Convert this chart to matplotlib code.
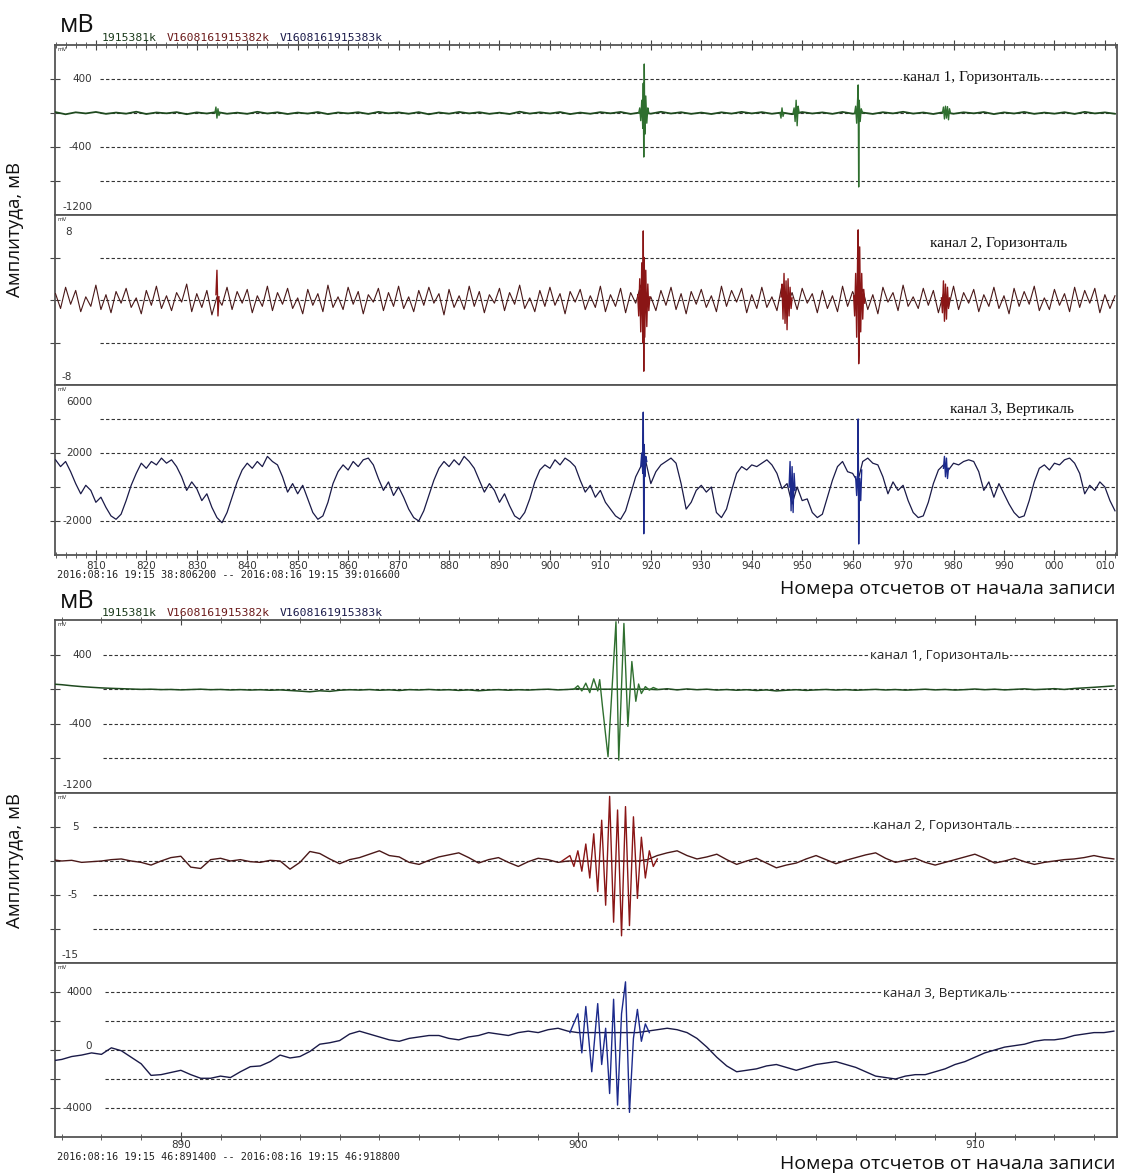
import numpy as np
import matplotlib
matplotlib.use("Agg")
import matplotlib.pyplot as plt
from matplotlib.ticker import FixedLocator, FixedFormatter, MultipleLocator, NullFormatter
from matplotlib.transforms import blended_transform_factory

# ---------------- DATA ----------------
# Top block: sample numbers 802..1012
top_x_start = 802
top_tick_values = [810, 820, 830, 840, 850, 860, 870, 880, 890, 900,
                   910, 920, 930, 940, 950, 960, 970, 980, 990, 1000, 1010]
top_tick_labels = ["810", "820", "830", "840", "850", "860", "870", "880", "890", "900",
                   "910", "920", "930", "940", "950", "960", "970", "980", "990", "000", "010"]

# channel 1 (top) baseline, every 2 samples, mV
t1_base = [10, -15, 8, -5, 12, -10, 5, -8, 15, -12,
           6, -4, 10, -14, 7, -6, 12, -9, 4, -10,
           14, -6, 8, -12, 5, -7, 11, -13, 6, -5,
           9, -11, 13, -4, 7, -9, 10, -15, 6, -8,
           12, -5, 9, -10, 4, -12, 15, -7, 8, -6,
           11, -13, 5, -9, 10, -4, 12, -11, 7, -8,
           14, -6, 9, -10, 5, -12, 8, -7, 13, -5,
           10, -9, 6, -14, 11, -6, 7, -10, 12, -8,
           5, -11, 9, -5, 14, -7, 6, -12, 10, -9,
           8, -4, 11, -13, 7, -6, 12, -10, 5, -8,
           9, -11, 13, -5, 7, -9]
t1_b834_x = [833.6, 833.8, 834.0, 834.2, 834.4, 834.6]
t1_b834_y = [0, 70, -60, 50, -30, 0]
t1_b918_x = [917.6, 917.8, 918.0, 918.2, 918.4, 918.5, 918.6, 918.7, 918.8, 919.0, 919.2, 919.4, 919.6]
t1_b918_y = [0, 60, -90, 150, -180, 350, -518, 576, -250, 200, -120, 60, 0]
t1_b946_x = [945.6, 945.8, 946.0, 946.2, 946.4]
t1_b946_y = [0, -60, 60, -40, 0]
t1_b949_x = [948.2, 948.4, 948.6, 948.8, 949.0, 949.2, 949.4]
t1_b949_y = [0, 60, -100, 150, -150, 80, 0]
t1_b961_x = [960.4, 960.6, 960.8, 961.0, 961.1, 961.2, 961.3, 961.5, 961.7, 962.0]
t1_b961_y = [0, 80, -120, 180, 330, -870, 150, -100, 50, 0]
t1_b979_x = [977.8, 978.0, 978.2, 978.4, 978.6, 978.8, 979.0, 979.2, 979.4]
t1_b979_y = [0, 70, -70, 80, -60, 75, -80, 50, 0]

# channel 2 (top) baseline, every sample, mV
t2_base = [0.6, -0.8, 1.2, -0.4, 0.9, -1.1, 0.3, -0.6, 1.4, -0.9,
           0.5, -1.2, 0.8, -0.3, 1.1, -0.7, 0.2, -1.3, 0.9, -0.5,
           1.3, -0.8, 0.4, -1.0, 0.7, -0.2, 1.5, -1.1, 0.6, -0.7,
           0.9, -1.4, 0.3, -0.5, 1.2, -0.9, 0.8, -0.3, 1.0, -1.2,
           0.4, -0.6, 1.3, -1.0, 0.7, -0.4, 1.1, -0.8, 0.2, -1.3,
           1.0, -0.5, 0.6, -1.1, 1.4, -0.7, 0.3, -0.9, 1.2, -0.4,
           0.8, -1.3, 0.5, -0.2, 1.1, -1.0, 0.7, -0.6, 1.3, -0.8,
           0.3, -1.1, 0.9, -0.5, 1.2, -0.3, 0.6, -1.4, 1.0, -0.7,
           0.4, -0.9, 1.3, -0.6, 0.8, -1.2, 0.5, -0.3, 1.1, -1.0,
           0.7, -0.4, 1.4, -0.8, 0.2, -1.1, 0.9, -0.6, 1.2, -0.5,
           0.6, -1.3, 0.8, -0.2, 1.0, -0.9, 0.4, -0.7, 1.3, -1.1,
           0.5, -0.6, 1.1, -1.2, 0.7, -0.3, 1.4, -0.8, 0.3, -1.0,
           0.9, -0.5, 1.2, -0.9, 0.6, -1.3, 0.8, -0.4, 1.0, -0.7,
           0.4, -1.1, 1.3, -0.6, 0.9, -0.2, 1.1, -1.2, 0.5, -0.8,
           1.2, -0.7, 0.3, -1.0, 1.4, -0.5, 0.7, -0.9, 1.1, -0.3,
           0.6, -1.2, 0.9, -0.8, 0.4, -1.1, 1.3, -0.6, 0.8, -0.4,
           1.0, -0.9, 0.5, -1.3, 1.2, -0.2, 0.7, -1.0, 1.4, -0.6,
           0.3, -0.8, 1.1, -0.5, 0.9, -1.2, 0.6, -0.7, 1.3, -0.9,
           0.7, -0.3, 1.0, -1.1, 0.5, -0.6, 1.2, -0.8, 0.4, -1.3,
           1.1, -0.6, 0.8, -0.4, 1.3, -1.0, 0.2, -0.9, 1.0, -0.5,
           0.6, -1.1, 1.2, -0.7, 0.9, -0.3, 1.1, -1.2, 0.5, -0.8,
           0.4]
t2_b834_x = [833.8, 834.0, 834.2, 834.4]
t2_b834_y = [0.5, 2.8, -1.5, 0.3]
t2_b918_x = [917.4, 917.6, 917.8, 918.0, 918.2, 918.4, 918.5, 918.6, 918.7, 918.8, 919.0, 919.2, 919.4, 919.6, 919.8]
t2_b918_y = [0.5, -1.5, 2.0, -3.0, 3.5, -4.0, 6.5, -6.7, 4.0, -3.5, 2.8, -2.5, 1.5, -1.0, 0.3]
t2_b947_x = [945.8, 946.0, 946.2, 946.4, 946.6, 946.8, 947.0, 947.2, 947.4, 947.6, 947.8, 948.0]
t2_b947_y = [0.3, 1.5, -1.8, 2.5, -2.2, 1.8, -2.8, 2.0, -1.5, 1.2, -0.8, 0.2]
t2_b961_x = [960.2, 960.4, 960.6, 960.8, 961.0, 961.1, 961.2, 961.3, 961.4, 961.6, 961.8, 962.0, 962.2, 962.4]
t2_b961_y = [0.4, -1.5, 2.5, -3.5, 4.5, 6.6, -6.0, -4.5, 5.0, -3.0, 2.5, -1.8, 1.0, -0.3]
t2_b978_x = [977.6, 977.8, 978.0, 978.2, 978.4, 978.6, 978.8, 979.0, 979.2]
t2_b978_y = [0.2, -1.2, 1.8, -2.0, 1.5, -1.8, 1.2, -0.8, 0.2]

# channel 3 (top) baseline, every sample, mV
t3_base = [1600, 1200, 1500, 900, 200, -400, 100, -200, -900, -600,
           -1200, -1700, -1900, -1600, -800, 100, 800, 1400, 1100, 1500,
           1300, 1700, 1400, 1600, 1200, 600, -200, 300, -100, -800,
           -400, -1200, -1800, -2100, -1500, -600, 300, 1000, 1400, 1100,
           1500, 1200, 1800, 1500, 1300, 600, -300, 200, -400, 100,
           -700, -1500, -1900, -1700, -900, 200, 900, 1300, 1000, 1500,
           1200, 1600, 1700, 1300, 500, -200, 300, -500, 0, -600,
           -1300, -1800, -2000, -1400, -500, 400, 1100, 1500, 1200, 1600,
           1300, 1800, 1500, 1100, 400, -300, 200, -200, -900, -400,
           -1100, -1700, -1900, -1500, -700, 300, 1000, 1300, 1100, 1600,
           1300, 1700, 1500, 1200, 400, -300, 100, -600, -200, -900,
           -1300, -1700, -1900, -1400, -400, 600, 1200, 1500, 200, 900,
           1300, 1500, 1700, 1400, 200, -1300, -900, -200, 100, -300,
           0, -1500, -1800, -1300, -200, 800, 1200, 1000, 1300, 1200,
           1400, 1600, 1300, 800, -100, 200, -1000, 0, -800, -700,
           -1500, -1800, -1600, -600, 400, 1200, 1500, 900, 800, 300,
           1500, 1700, 1400, 1300, 600, -400, 300, -200, 100, -800,
           -1500, -1800, -1700, -900, 200, 1000, 1300, 1000, 1400, 1300,
           1500, 1600, 1500, 900, -200, 300, -600, 200, -400, -1000,
           -1500, -1800, -1700, -800, 300, 1100, 1300, 1000, 1400, 1300,
           1600, 1700, 1400, 800, -400, 100, -200, 300, 0, -800,
           -1400]
t3_b918_x = [918.0, 918.2, 918.4, 918.5, 918.6, 918.7, 918.8, 919.0, 919.2]
t3_b918_y = [1200, 2000, 800, 4400, -2750, 2500, 600, 1800, 1500]
t3_b948_x = [947.4, 947.6, 947.8, 948.0, 948.2, 948.4, 948.6]
t3_b948_y = [0, 1500, -1400, 1200, -1500, 800, -200]
t3_b961_x = [960.6, 960.8, 961.0, 961.1, 961.2, 961.3, 961.4, 961.6, 961.8]
t3_b961_y = [600, -500, 800, 4000, -3350, -1000, 500, -800, 1000]
t3_b979_x = [978.0, 978.2, 978.4, 978.6, 978.8, 979.0]
t3_b979_y = [1100, 1800, 600, 1700, 500, 1100]

# Bottom block: samples 886.75..913.5 every 0.25
bot_x_start = 886.75
bot_tick_values = [890, 900, 910]
bot_tick_labels = ["890", "900", "910"]

b1_base = [60, 52, 40, 30, 22, 15, 10, 6, 2, -2,
           0, -5, -3, -8, -4, 0, -6, -3, -9, -5,
           -10, -6, -12, -8, -15, -22, -30, -18, -25, -12,
           -6, -10, -4, -12, -7, -15, -5, -9, -3, -10,
           -6, -14, -8, -18, -10, -5, -12, -6, -10, -4,
           0, -8, -3, 5, 0, 0, 0, 0, 0, 0,
           0, -5, 5, -8, 3, -6, 0, -10, -4, -12,
           -6, -15, -8, -20, -12, -6, -14, -8, -3, -10,
           -5, -12, -7, -2, -9, -4, -11, -6, 0, -8,
           -3, -10, -5, 2, -6, 0, -8, -2, 4, -5,
           0, 6, -3, 8, 15, 22, 30, 38]
b1_burst_x = [899.9, 900.0, 900.1, 900.2, 900.3, 900.4, 900.5, 900.55, 900.62, 900.76, 900.96,
              901.03, 901.16, 901.26, 901.36, 901.46, 901.53, 901.6, 901.7, 901.8, 901.9, 902.0]
b1_burst_y = [0, 40, -20, 70, -40, 120, -20, 110, -200, -780, 780,
              -820, 760, -430, 320, -140, 60, -50, 30, -10, 20, 0]

b2_base = [0.2, 0.0, 0.1, -0.2, -0.1, 0.0, 0.2, 0.3, 0.0, -0.2,
           -0.6, 0.0, 0.5, 0.7, -0.9, -1.1, 0.2, 0.4, 0.0, 0.2,
           -0.1, -0.2, 0.1, 0.0, -1.2, -0.2, 1.4, 1.1, 0.3, -0.4,
           0.2, 0.5, 1.0, 1.5, 0.8, 0.6, -0.2, -0.5, 0.1, 0.6,
           0.9, 1.2, 0.5, -0.3, 0.2, 0.5, -0.2, -0.8, -0.1, 0.4,
           0.2, -0.2, 0.0, 0.0, 0.0, 0.0, 0.0, 0.0, 0.0, 0.0,
           0.2, 0.8, 1.2, 1.5, 0.8, 0.3, 0.6, 1.0, 0.2, -0.5,
           0.0, 0.4, -0.3, -1.0, -0.6, -0.3, 0.3, 0.8, 0.2, -0.4,
           0.1, 0.5, 0.9, 1.2, 0.4, -0.2, 0.1, 0.4, -0.2, -0.6,
           -0.2, 0.2, 0.6, 1.0, 0.4, -0.3, 0.0, 0.4, -0.1, -0.5,
           -0.2, 0.0, 0.2, 0.3, 0.5, 0.8, 0.5, 0.3]
b2_burst_x = [899.6, 899.8, 899.9, 900.0, 900.1, 900.2, 900.3, 900.4, 900.5, 900.6, 900.7, 900.8,
              900.9, 901.0, 901.1, 901.2, 901.3, 901.4, 901.5, 901.6, 901.7, 901.8, 901.9, 902.0]
b2_burst_y = [0.0, 0.8, -0.8, 1.5, -1.5, 2.5, -2.5, 4.0, -4.5, 6.0, -6.5, 9.5,
              -9.0, 7.5, -11.0, 8.0, -9.5, 6.5, -5.5, 3.5, -2.5, 1.5, -0.8, 0.3]

b3_base = [-750, -650, -450, -350, -200, -300, 150, -50, -500, -950,
           -1750, -1700, -1550, -1400, -1700, -1950, -1950, -1800, -1900, -1500,
           -1150, -1100, -800, -350, -550, -450, -100, 400, 500, 650,
           1100, 1300, 1100, 900, 700, 600, 800, 900, 1000, 1000,
           800, 700, 900, 1000, 1200, 1100, 1000, 1200, 1300, 1200,
           1400, 1500, 1300, 1200, 1200, 1200, 1200, 1200, 1200, 1200,
           1300, 1400, 1500, 1400, 1200, 800, 200, -500, -1100, -1500,
           -1400, -1300, -1100, -1000, -1200, -1400, -1200, -1000, -900, -800,
           -1000, -1200, -1500, -1800, -1900, -2000, -1800, -1700, -1700, -1500,
           -1300, -1000, -800, -500, -200, 0, 200, 300, 400, 600,
           700, 700, 800, 1000, 1100, 1200, 1200, 1300]
b3_burst_x = [899.8, 900.0, 900.1, 900.2, 900.35, 900.5, 900.6, 900.7, 900.8, 900.9, 901.0,
              901.1, 901.2, 901.3, 901.4, 901.5, 901.6, 901.7, 901.8]
b3_burst_y = [1200, 2500, -200, 3000, -1500, 3200, -1000, 1500, -3000, 3500, -3800,
              2500, 4700, -4300, 800, 2800, 600, 1800, 1200]

channel_names = ["канал 1, Горизонталь", "канал 2, Горизонталь", "канал 3, Вертикаль"]
date_top = "2016:08:16 19:15 38:806200 -- 2016:08:16 19:15 39:016600"
date_bot = "2016:08:16 19:15 46:891400 -- 2016:08:16 19:15 46:918800"
header_parts = ["1915381k", "V1608161915382k", "V1608161915383k"]
xlabel_text = "Номера отсчетов от начала записи"
ylabel_text = "Амплитуда, мВ"

# ---------------- STYLE / LAYOUT ----------------
W, H = 1122, 1176
fig = plt.figure(figsize=(W / 100, H / 100), dpi=100)
L, R = 55, 1117
col = ["#1f4a1f", "#4a1818", "#1a1a48"]
burst_col = ["#2f6f2f", "#8a1616", "#1c2a8c"]
dash = (0, (3, 2))


def add_ax(top, bot):
    return fig.add_axes([L / W, 1 - bot / H, (R - L) / W, (bot - top) / H])


def style_panel(ax, ylim, xlim, grid_vals, grid_start, labels, lab_right):
    ax.set_xlim(*xlim)
    ax.set_ylim(*ylim)
    for s in ax.spines.values():
        s.set_color("#555555")
        s.set_linewidth(1.3)
    for v in grid_vals:
        ax.axhline(v, xmin=grid_start, xmax=1, ls=dash, color="#333333", lw=0.8, zorder=1)
    ax.set_yticks(grid_vals)
    ax.tick_params(axis="y", direction="inout", length=7, color="#444444", labelleft=False)
    tr = blended_transform_factory(ax.transAxes, ax.transData)
    for (pos, txt) in labels:
        if pos == "top":
            ax.text(lab_right, 0.9, txt, transform=ax.transAxes, ha="right", va="center",
                    fontsize=7.5, color="#333333")
        elif pos == "bottom":
            ax.text(lab_right, 0.045, txt, transform=ax.transAxes, ha="right", va="center",
                    fontsize=7.5, color="#333333")
        else:
            ax.text(lab_right, pos, txt, transform=tr, ha="right", va="center",
                    fontsize=7.5, color="#333333", zorder=2)
    ax.text(0.002, 0.99, "mV", transform=ax.transAxes, ha="left", va="top", fontsize=4, color="#333333")


def xaxis_style(ax, major_vals, major_labels, minor_step, show_labels, top_ticks, pad=1):
    ax.xaxis.set_major_locator(FixedLocator(major_vals))
    ax.xaxis.set_minor_locator(MultipleLocator(minor_step))
    if show_labels:
        ax.xaxis.set_major_formatter(FixedFormatter(major_labels))
    else:
        ax.xaxis.set_major_formatter(NullFormatter())
    ax.tick_params(axis="x", which="major", direction="inout", length=7, color="#444444",
                   labelsize=7.5, labelcolor="#333333", pad=pad,
                   bottom=show_labels, top=top_ticks, labelbottom=show_labels)
    ax.tick_params(axis="x", which="minor", direction="inout", length=4, color="#444444",
                   bottom=show_labels, top=top_ticks)


# ---------------- TOP BLOCK ----------------
top_xlim = (801.9, 1012.4)
top_rows = [(45, 215), (215, 385), (385, 555)]
axT = [add_ax(a, b) for a, b in top_rows]

x1 = top_x_start + 2 * np.arange(len(t1_base))
xs = top_x_start + np.arange(len(t2_base))
x3 = top_x_start + np.arange(len(t3_base))

style_panel(axT[0], (-1200, 800), top_xlim, [400, 0, -400, -800], 0.042,
            [(400, "400"), (-400, "-400"), ("bottom", "-1200")], 0.035)
style_panel(axT[1], (-8, 8), top_xlim, [4, 0, -4], 0.042,
            [("top", "8"), ("bottom", "-8")], 0.016)
style_panel(axT[2], (-4000, 6000), top_xlim, [4000, 2000, 0, -2000], 0.042,
            [("top", "6000"), (2000, "2000"), (-2000, "-2000")], 0.035)

axT[0].plot(x1, t1_base, color=col[0], lw=1.3, zorder=3)
for bx, by in [(t1_b834_x, t1_b834_y), (t1_b918_x, t1_b918_y), (t1_b946_x, t1_b946_y),
               (t1_b949_x, t1_b949_y), (t1_b961_x, t1_b961_y), (t1_b979_x, t1_b979_y)]:
    axT[0].plot(bx, by, color=burst_col[0], lw=1.0, zorder=4)

axT[1].plot(xs, t2_base, color=col[1], lw=0.8, zorder=3)
for bx, by in [(t2_b834_x, t2_b834_y), (t2_b918_x, t2_b918_y), (t2_b947_x, t2_b947_y),
               (t2_b961_x, t2_b961_y), (t2_b978_x, t2_b978_y)]:
    axT[1].plot(bx, by, color=burst_col[1], lw=1.0, zorder=4)

axT[2].plot(x3, t3_base, color=col[2], lw=0.9, zorder=3)
for bx, by in [(t3_b918_x, t3_b918_y), (t3_b948_x, t3_b948_y), (t3_b961_x, t3_b961_y),
               (t3_b979_x, t3_b979_y)]:
    axT[2].plot(bx, by, color=burst_col[2], lw=1.0, zorder=4)

xaxis_style(axT[0], top_tick_values, top_tick_labels, 2, False, True)
xaxis_style(axT[1], top_tick_values, top_tick_labels, 2, False, False)
xaxis_style(axT[2], top_tick_values, top_tick_labels, 2, True, False)

top_lab_pos = [(903, 77), (930, 244), (950, 410)]
for ax, name, (px, py), (t, b) in zip(axT, channel_names, top_lab_pos, top_rows):
    ax.text((px - L) / (R - L), 1 - (py - t) / (b - t), name, transform=ax.transAxes,
            ha="left", va="center", fontsize=11, family="Liberation Serif", color="#111111",
            zorder=6, bbox=dict(facecolor="white", edgecolor="none", pad=0.5))

# ---------------- BOTTOM BLOCK ----------------
bot_xlim = (886.83, 913.58)
bot_rows = [(620, 793), (793, 963), (963, 1137)]
axB = [add_ax(a, b) for a, b in bot_rows]
xb = bot_x_start + 0.25 * np.arange(len(b1_base))

style_panel(axB[0], (-1200, 800), bot_xlim, [400, 0, -400, -800], 0.045,
            [(400, "400"), (-400, "-400"), ("bottom", "-1200")], 0.035)
style_panel(axB[1], (-15, 10), bot_xlim, [5, 0, -5, -10], 0.036,
            [(5, "5"), (-5, "-5"), ("bottom", "-15")], 0.022)
style_panel(axB[2], (-6000, 6000), bot_xlim, [4000, 2000, 0, -2000, -4000], 0.047,
            [(4000, "4000"), (300, "0"), (-4000, "-4000")], 0.035)

axB[0].plot(xb, b1_base, color=col[0], lw=1.1, zorder=3)
axB[0].plot(b1_burst_x, b1_burst_y, color=burst_col[0], lw=1.0, zorder=4)
axB[1].plot(xb, b2_base, color=col[1], lw=1.0, zorder=3)
axB[1].plot(b2_burst_x, b2_burst_y, color=burst_col[1], lw=1.0, zorder=4)
axB[2].plot(xb, b3_base, color=col[2], lw=1.0, zorder=3)
axB[2].plot(b3_burst_x, b3_burst_y, color=burst_col[2], lw=1.0, zorder=4)

xaxis_style(axB[0], bot_tick_values, bot_tick_labels, 1, False, True)
xaxis_style(axB[1], bot_tick_values, bot_tick_labels, 1, False, False)
xaxis_style(axB[2], bot_tick_values, bot_tick_labels, 1, True, False, pad=-1.5)

bot_lab_pos = [(870, 655), (873, 826), (883, 994)]
for ax, name, (px, py), (t, b) in zip(axB, channel_names, bot_lab_pos, bot_rows):
    ax.text((px - L) / (R - L), 1 - (py - t) / (b - t), name, transform=ax.transAxes,
            ha="left", va="center", fontsize=9.5, family="Open Sans", color="#222222",
            zorder=6, bbox=dict(facecolor="white", edgecolor="none", pad=0.3))

# ---------------- FIGURE TEXT ----------------
for ytop, ydate, yx, ymv, yhead, yamp in [(45, 575, 589, 26, 38, 230), (620, 1157, 1164, 602, 613, 860)]:
    fig.text(57 / W, 1 - ydate / H, date_top if ytop == 45 else date_bot, ha="left", va="center",
             fontsize=7.3, family="DejaVu Sans Mono", color="#222222")
    fig.text(1116 / W, 1 - yx / H, xlabel_text, ha="right", va="center", fontsize=14,
             family="Open Sans", color="#111111")
    fig.text(60 / W, 1 - ymv / H, "мВ", ha="left", va="center", fontsize=18,
             family="Open Sans", color="#111111")
    for part, px, c in zip(header_parts, [102, 167, 280], ["#1a3a1a", "#6b1a1a", "#1a1a4a"]):
        fig.text(px / W, 1 - yhead / H, part, ha="left", va="center", fontsize=8.2,
                 family="DejaVu Sans Mono", color=c)
    fig.text(15 / W, 1 - yamp / H, ylabel_text, rotation=90, ha="center", va="center",
             fontsize=13.5, family="Open Sans", color="#111111")

fig.savefig("out.png", dpi=100, facecolor="white")
